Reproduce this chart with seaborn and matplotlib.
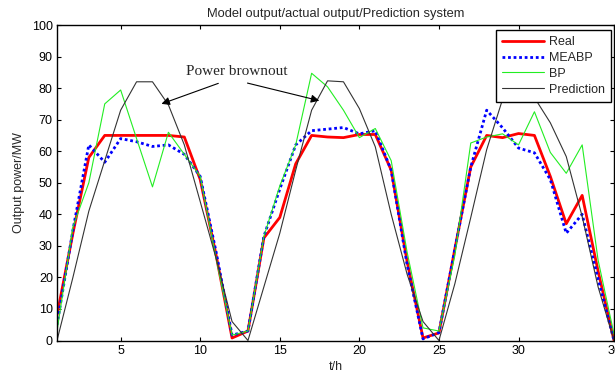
import matplotlib
matplotlib.use("Agg")
import matplotlib.pyplot as plt
import seaborn as sns
import pandas as pd

# Hourly values
hours = list(range(1, 37))
real = [8, 34, 58, 65, 65, 65, 65, 65, 64.5, 51, 27, 0.8, 3, 32.5, 39, 56, 65, 64.5,
        64.3, 65.3, 65.3, 54, 25, 0.8, 2.4, 29, 55, 65, 64.3, 65.6, 65, 52, 37, 46, 22, 0]
meabp = [5, 35, 62, 56.5, 64, 63, 61.5, 62, 59, 52, 28, 1.7, 3, 33, 48, 62, 66.5, 67,
         67.5, 65.5, 66.5, 54, 24, 0.5, 2.5, 29, 55, 73, 67.4, 61, 59.5, 51, 34, 40, 19.5, 0]
bp = [3, 36, 50, 75, 79.4, 64, 48.7, 66, 59, 52, 26, 1.7, 3, 33, 49, 62, 84.7, 80.4,
      73, 64.3, 67.2, 57, 28, 4, 3, 27, 62.6, 64.5, 65.5, 62, 72.5, 59.6, 53, 62, 25.5, 2]
prediction = [0, 20, 41, 57, 73, 82, 82, 74.7, 62, 44, 26, 6, 0, 17, 34, 54, 73, 82.3,
              82, 73.5, 61.4, 40, 21, 6, 0, 18, 39, 60.5, 76.5, 82, 77, 69, 58.3, 39.3, 17, 0]

x_ticks = [5, 10, 15, 20, 25, 30, 36]
x_tick_labels = ["5", "10", "15", "20", "25", "30", "36"]
y_ticks = list(range(0, 101, 10))

df = pd.DataFrame({"t": hours, "Real": real, "MEABP": meabp, "BP": bp, "Prediction": prediction})

sns.set_theme(style="ticks")
plt.rcParams['font.family'] = ['Liberation Sans', 'DejaVu Sans']

fig = plt.figure(figsize=(6.15, 3.72), dpi=100)
ax = fig.add_axes([57 / 615, 31.5 / 372, 557 / 615, 315.5 / 372])

sns.lineplot(data=df, x="t", y="Real", ax=ax, color="#ff0000", linewidth=2, label="Real")
sns.lineplot(data=df, x="t", y="MEABP", ax=ax, color="#0000ff", linewidth=2,
             linestyle=(0, (1, 1)), label="MEABP")
sns.lineplot(data=df, x="t", y="BP", ax=ax, color="#22ee22", linewidth=0.8, label="BP")
sns.lineplot(data=df, x="t", y="Prediction", ax=ax, color="#333333", linewidth=0.8,
             label="Prediction")

ax.set_xlim(1, 36)
ax.set_ylim(0, 100)
ax.set_xticks(x_ticks)
ax.set_xticklabels(x_tick_labels)
ax.set_yticks(y_ticks)
ax.tick_params(direction="in", top=True, right=True, length=3, width=0.8,
               labelsize=9, colors="black", pad=3)
for s in ax.spines.values():
    s.set_color("black")
    s.set_linewidth(1)

ax.set_xlabel("t/h", fontsize=9, labelpad=3)
ax.set_ylabel("Output power/MW", fontsize=9, labelpad=5)
ax.set_title("Model output/actual output/Prediction system", fontsize=9.3, pad=6)

# annotation
ax.text(12.3, 85.2, "Power brownout", family="Liberation Serif", fontsize=11,
        ha="center", va="center")
arrow_style = dict(arrowstyle="-|>", color="black", lw=0.8, mutation_scale=12)
ax.annotate("", xy=(7.4, 74.7), xytext=(11.3, 81.8), arrowprops=arrow_style)
ax.annotate("", xy=(17.65, 75.8), xytext=(12.8, 81.8), arrowprops=arrow_style)

leg = ax.legend(loc="upper right", bbox_to_anchor=(0.9946, 0.984), borderaxespad=0,
                fontsize=9, frameon=True, fancybox=False, framealpha=1, edgecolor="black",
                handlelength=3.3, handletextpad=0.4, labelspacing=0.3, borderpad=0.5)
leg.get_frame().set_linewidth(1)

fig.savefig("out.png", dpi=100)
